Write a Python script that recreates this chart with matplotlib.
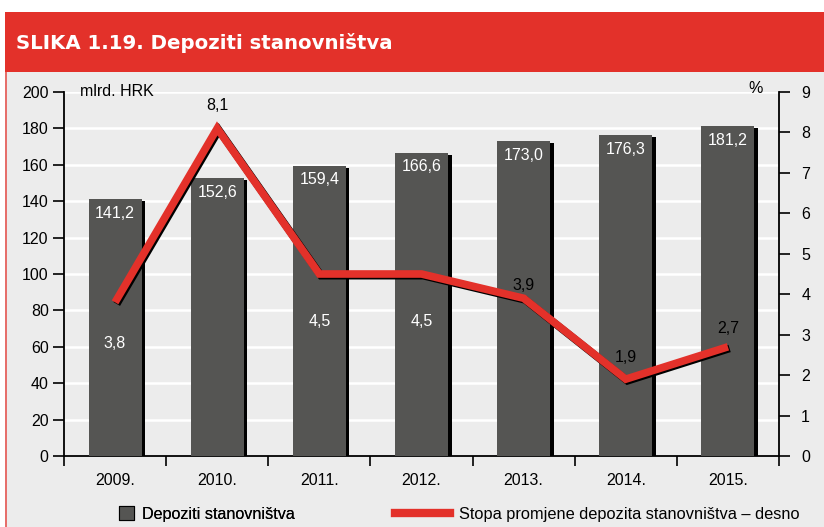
import matplotlib
matplotlib.use('Agg')
import matplotlib.pyplot as plt
import matplotlib.patheffects as pe
from matplotlib.patches import Rectangle, Patch
from matplotlib.lines import Line2D
import numpy as np

plt.rcParams['font.family'] = ['Liberation Sans', 'DejaVu Sans']

# podaci
godine = ['2009.', '2010.', '2011.', '2012.', '2013.', '2014.', '2015.']
depoziti = [141.2, 152.6, 159.4, 166.6, 173.0, 176.3, 181.2]
stopa = [3.8, 8.1, 4.5, 4.5, 3.9, 1.9, 2.7]

crvena = '#e3312a'
siva_bg = '#ececec'
stupac = '#555553'

fig = plt.figure(figsize=(8.24, 5.27), dpi=100, facecolor='white')
W, H = 824, 527

# pozadina i zaglavlje
fig.add_artist(Rectangle((5 / W, 0), 1, 1 - 72 / H, transform=fig.transFigure,
                         facecolor=siva_bg, edgecolor='none', zorder=-10))
fig.add_artist(Rectangle((5 / W, 1 - 72 / H), 1, 60 / H, transform=fig.transFigure,
                         facecolor=crvena, edgecolor='none', zorder=-9))
fig.add_artist(Line2D([5.5 / W, 5.5 / W], [0, 1 - 72 / H], transform=fig.transFigure,
                      color=crvena, lw=1.2, alpha=0.8))
fig.text(16 / W, 1 - 43 / H, 'SLIKA 1.19. Depoziti stanovništva', color='white',
         fontsize=14.2, fontweight='bold', va='center', ha='left', family='DejaVu Sans')

ax = fig.add_axes([64 / W, 1 - 456 / H, 715 / W, 364 / H])
ax.set_facecolor(siva_bg)
x = np.arange(len(godine))

bars = ax.bar(x, depoziti, width=0.52, color=stupac, zorder=3,
              path_effects=[pe.SimplePatchShadow(offset=(2.5, -1.5), shadow_rgbFace='black', alpha=1),
                            pe.Normal()])
for xi, v in zip(x, depoziti):
    ax.annotate(f'{v:.1f}'.replace('.', ','), (xi, v), xytext=(0, -14), textcoords='offset pixels',
                ha='center', va='center', color='white', fontsize=11.5, zorder=5)

ax.set_ylim(0, 200)
ax.set_xlim(-0.5, len(godine) - 0.5)
ax.set_yticks(np.arange(0, 201, 20))
ax.yaxis.grid(True, color='white', lw=1.8, zorder=0)
ax.set_axisbelow(True)
ax.set_xticks(np.arange(-0.5, len(godine), 1.0))
ax.set_xticklabels([])
ax.set_xticks(x, minor=True)
ax.set_xticklabels(godine, minor=True)
ax.tick_params(axis='x', which='major', direction='out', length=7, width=1.2)
ax.tick_params(axis='x', which='minor', length=0, pad=12, labelsize=11.5)
ax.tick_params(axis='y', direction='out', length=8, width=1.2, labelsize=11.5, pad=3)
for s in ['top', 'right']:
    ax.spines[s].set_visible(False)
for s in ['left', 'bottom']:
    ax.spines[s].set_linewidth(1.3)
ax.text(0.022, 1.0, 'mlrd. HRK', transform=ax.transAxes, ha='left', va='center', fontsize=11.5)

ax2 = ax.twinx()
ax2.set_ylim(0, 9)
ax2.set_yticks(np.arange(0, 10, 1))
ax2.tick_params(axis='y', direction='out', length=8, width=1.2, labelsize=11.5, pad=8)
for s in ['top', 'left', 'bottom']:
    ax2.spines[s].set_visible(False)
ax2.spines['right'].set_linewidth(1.3)
ax2.plot(x, stopa, color=crvena, lw=5.5, solid_joinstyle='miter', solid_capstyle='butt', zorder=4,
         path_effects=[pe.SimpleLineShadow(offset=(1.2, -1.2), shadow_color='black', alpha=1),
                       pe.Normal()])
pomaci = [-41, 23, -48, -48, 13, 22, 18]
for xi, v, dy in zip(x, stopa, pomaci):
    ax2.annotate(f'{v:.1f}'.replace('.', ','), (xi, v), xytext=(0, dy), textcoords='offset pixels',
                 ha='center', va='center', color='white' if dy < -30 else 'black', fontsize=11.5)
ax2.text(0.967, 1.01, '%', transform=ax2.transAxes, ha='center', va='center', fontsize=11.5)

# legenda
leg1 = fig.legend(handles=[Patch(facecolor=stupac, edgecolor='black', lw=0.8)],
                  labels=['Depoziti stanovništva'], loc='center left',
                  bbox_to_anchor=(104 / W, 1 - 514 / H), frameon=False, fontsize=11.6,
                  handlelength=0.95, handleheight=0.95, handletextpad=0.5)
fig.legend(handles=[Line2D([], [], color=crvena, lw=6)],
           labels=['Stopa promjene depozita stanovništva – desno'], loc='center left',
           bbox_to_anchor=(380 / W, 1 - 514 / H), frameon=False, fontsize=11.8,
           handlelength=3.4, handletextpad=0.5)
fig.add_artist(leg1)

fig.savefig('out.png', dpi=100, facecolor=fig.get_facecolor())
